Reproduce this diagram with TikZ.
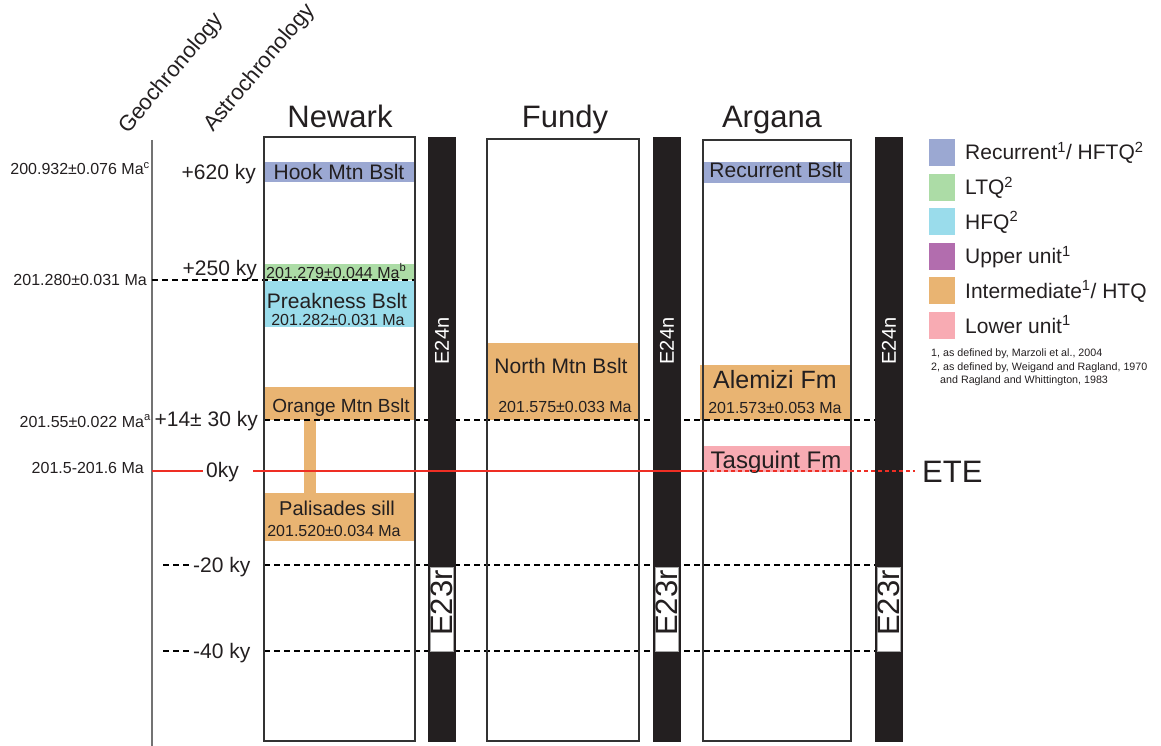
\documentclass[tikz,border=0pt]{standalone}
\usepackage{fontspec}
\setmainfont{Liberation Sans}
\usetikzlibrary{positioning}
\definecolor{recblue}{HTML}{9BA8D2}
\definecolor{ltqgreen}{HTML}{ACDCA6}
\definecolor{hfqcyan}{HTML}{9ADCEB}
\definecolor{upppurple}{HTML}{B26DAE}
\definecolor{intorange}{HTML}{E9B472}
\definecolor{lowpink}{HTML}{F8ABB3}
\definecolor{etered}{HTML}{EE2E24}
\definecolor{barblack}{HTML}{231F20}
\definecolor{boxgray}{HTML}{333333}
\newcommand{\fs}[1]{\fontsize{#1}{#1}\selectfont}

\begin{document}
\begin{tikzpicture}[x=1pt, y=-1pt, every node/.style={inner sep=0pt, text=barblack},
	title/.style={font=\fs{31}}, head/.style={font=\fs{22}, rotate=50, anchor=base west},
	ast/.style={font=\fs{21}}, geo/.style={font=\fs{16}, anchor=base east},
	unit/.style={font=\fs{21}, anchor=base}, date/.style={font=\fs{16}, anchor=base},
	col/.style={draw=boxgray, line width=2.5pt}, bar/.style={fill=barblack},
	rev/.style={fill=white, draw=gray!70, line width=0.6pt},
	kyline/.style={dash pattern=on 6pt off 4pt, line width=1.4pt},
	ete/.style={etered, line width=1.8pt}]
	\useasboundingbox (0,0) rectangle (1161,746);
	% time axis
	\draw[gray!90!black, line width=1.5pt] (152,140) -- (152,746);
	\node[head] (geo) at (128,135) {Geochronology};
	\node[head] (astro) at (213,133) {Astrochronology};
	\node[geo] (g620) at (150,175) {200.932±0.076 Ma\textsuperscript{c}};
	\node[geo] (g250) at (147,285) {201.280±0.031 Ma};
	\node[geo] (g14) at (151,427) {201.55±0.022 Ma\textsuperscript{a}};
	\node[geo] (g0) at (144,473) {201.5-201.6 Ma};
	\node[ast, anchor=base east] (a620) at (256,179) {+620 ky};
	\node[ast, anchor=base east] (a250) at (257,275) {+250 ky};
	\node[ast, anchor=base east] (a14) at (258,426) {+14± 30 ky};
	\node[ast, anchor=base west] (a0) at (206,477) {0ky};
	\node[ast, anchor=base west] (a20) at (193,572) {-20 ky};
	\node[ast, anchor=base west] (a40) at (193,658) {-40 ky};
	% units
	\fill[recblue] (265,162) rectangle (414,182);
	\fill[ltqgreen] (265,264) rectangle (414,280);
	\fill[hfqcyan] (265,281) rectangle (414,327);
	\fill[intorange] (265,387) rectangle (414,420);
	\fill[intorange] (304,420) rectangle (316,493);
	\fill[intorange] (265,493) rectangle (414,541);
	\fill[intorange] (488,343) rectangle (638,420);
	\fill[recblue] (704,162) rectangle (850,183);
	\fill[intorange] (700,365) rectangle (850,420);
	\fill[lowpink] (704,446) rectangle (850,472);
	% dashed time lines
	\draw[kyline] (152,280) -- (415,280);
	\draw[kyline] (264,420) -- (875,420);
	\draw[kyline] (163,565) -- (189,565);
	\draw[kyline] (264,565) -- (876,565);
	\draw[kyline] (163,651) -- (189,651);
	\draw[kyline] (264,651) -- (876,651);
	% sections and polarity bars
	\draw[col] (264,137) rectangle (415,741);
	\draw[col] (487,139) rectangle (639,741);
	\draw[col] (703,140) rectangle (851,741);
	\foreach \x [count=\i] in {428,653,875} {
		\fill[bar] (\x,137) rectangle (\x+28,742);
		\draw[rev] (\x+2,567) rectangle (\x+25,651);
		\node[rotate=90, text=white, font=\fs{20}] (e24n\i) at (\x+14,341) {E24n};
		\node[rotate=90, font=\fs{31}] (e23r\i) at (\x+13.5,603) {E23r};
	}
	\node[title, anchor=base] (newark) at (340,128) {Newark};
	\node[title, anchor=base] (fundy) at (565,128) {Fundy};
	\node[title, anchor=base] (argana) at (772,128) {Argana};
	\node[unit] (hook) at (339,180) {Hook Mtn Bslt};
	\node[date, anchor=base west] (dltq) at (266,278) {201.279±0.044 Ma\textsuperscript{b}};
	\node[unit] (preak) at (337,308) {Preakness Bslt};
	\node[date] (dpreak) at (338,325) {201.282±0.031 Ma};
	\node[unit, font=\fs{19}] (orange) at (341,412) {Orange Mtn Bslt};
	\node[unit, font=\fs{20}] (pal) at (337,515) {Palisades sill};
	\node[date] (dpal) at (334,536) {201.520±0.034 Ma};
	\node[unit] (north) at (561,373) {North Mtn Bslt};
	\node[date] (dnorth) at (565,412) {201.575±0.033 Ma};
	\node[unit] (recur) at (776,178) {Recurrent Bslt};
	\node[unit, font=\fs{25}] (alem) at (775,388) {Alemizi Fm};
	\node[date] (dalem) at (775,413) {201.573±0.053 Ma};
	\node[unit, font=\fs{24}] (tasg) at (776,468) {Tasguint Fm};
	% boundary
	\draw[ete] (152,471) -- (203,471);
	\draw[ete] (253,471) -- (703,471);
	\draw[ete, dash pattern=on 4pt off 3pt] (703,471) -- (915,471);
	\node[title, anchor=base west] (etelbl) at (922,482) {ETE};
	% legend
	\foreach \c/\t [count=\i from 0] in {recblue/{Recurrent\textsuperscript{1}/ HFTQ\textsuperscript{2}}, ltqgreen/{LTQ\textsuperscript{2}}, hfqcyan/{HFQ\textsuperscript{2}}, upppurple/{Upper unit\textsuperscript{1}}, intorange/{Intermediate\textsuperscript{1}/ HTQ}, lowpink/{Lower unit\textsuperscript{1}}} {
		\fill[\c] (929,139+34.6*\i) rectangle (955,166+34.6*\i);
		\node[font=\fs{21}, anchor=base west] (leg\i) at (965,160+34.6*\i) {\t};
	}
	\node[font=\fs{10.7}, anchor=base west] (fn1) at (931,356) {1, as defined by, Marzoli et al., 2004};
	\node[font=\fs{10.7}, anchor=base west] (fn2) at (931,370) {2, as defined by, Weigand and Ragland, 1970};
	\node[font=\fs{10.7}, anchor=base west] (fn3) at (940,383) {and Ragland and Whittington, 1983};
\end{tikzpicture}
\end{document}
